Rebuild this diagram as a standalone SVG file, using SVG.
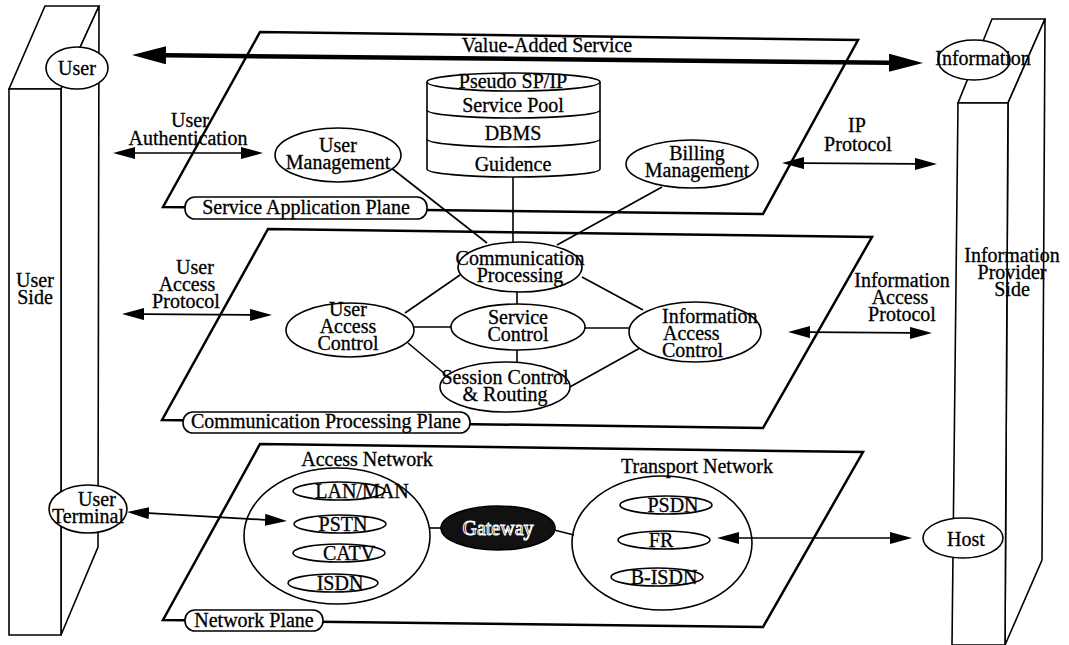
<svg xmlns="http://www.w3.org/2000/svg" width="1069" height="645" viewBox="0 0 1069 645">
<defs>
<marker id="ah" viewBox="0 0 22 12" refX="0" refY="6" markerWidth="22" markerHeight="12" markerUnits="userSpaceOnUse" orient="auto-start-reverse"><path d="M0,0 L22,6 L0,12 z" fill="#000"/></marker>
<marker id="ahb" viewBox="0 0 34 18" refX="0" refY="9" markerWidth="34" markerHeight="18" markerUnits="userSpaceOnUse" orient="auto-start-reverse"><path d="M0,0 L34,9 L0,18 z" fill="#000"/></marker>
</defs>
<style>
text{font-family:"Liberation Serif","Times New Roman",serif;font-size:20px;fill:#000;stroke:#000;stroke-width:0.3;text-anchor:middle}
.st{text-anchor:start}
.pl{fill:none;stroke:#000;stroke-width:2.5;stroke-linejoin:miter}
.pil{fill:#fff;stroke:#000;stroke-width:1.6;stroke-linejoin:miter}
.el{fill:#fff;stroke:#000;stroke-width:1.6}
.box{fill:none;stroke:#000;stroke-width:1.6}
.ln{fill:none;stroke:#000;stroke-width:1.6}
.lab{fill:#fff;stroke:#000;stroke-width:1.6}
.ar{fill:none;stroke:#000;stroke-width:1.7;marker-start:url(#ah);marker-end:url(#ah)}
.arb{fill:none;stroke:#000;stroke-width:4.5;marker-start:url(#ahb);marker-end:url(#ahb)}
</style>
<rect width="1069" height="645" fill="#fff"/>

<!-- pillars -->
<g id="user-side">
<path class="pil" d="M45,6 L99,6 L61,89 L9,89 Z"/>
<path class="pil" d="M99,6 L98,547 L61,635 L61,89 Z"/>
<path class="pil" d="M9,89 L61,89 L61,635 L9,635 Z"/>
<text x="35" y="287">User</text>
<text x="35" y="304">Side</text>
</g>
<g id="provider-side">
<path class="pil" d="M992,19 L1045,19 L1008,103 L958,103 Z"/>
<path class="pil" d="M1045,19 L1042,560 L1005,645 L1008,103 Z"/>
<path class="pil" d="M958,103 L1008,103 L1005,645 L952,645 Z"/>
<text x="1012" y="262">Information</text>
<text x="1012" y="279">Provider</text>
<text x="1012" y="296">Side</text>
</g>

<!-- planes -->
<g id="service-application-plane">
<path class="pl" d="M163,207 L260,32 L858,40 L763,214 Z"/>
<rect class="lab" x="185" y="197" width="242" height="22" rx="10"/>
<text x="306" y="214">Service Application Plane</text>
</g>
<g id="communication-processing-plane">
<path class="pl" d="M162,420 L268,229 L872,237 L763,428 Z"/>
<rect class="lab" x="183" y="412" width="287" height="21" rx="10"/>
<text x="326" y="428">Communication Processing Plane</text>
</g>
<g id="network-plane">
<path class="pl" d="M163,620 L260,444 L863,452 L763,627 Z"/>
<rect class="lab" x="185" y="610" width="138" height="21" rx="10"/>
<text x="254" y="627">Network Plane</text>
</g>

<!-- connectors -->
<g id="connectors">
<line class="ln" x1="390" y1="167" x2="487" y2="243"/>
<line class="ln" x1="513" y1="176" x2="513" y2="243"/>
<line class="ln" x1="662" y1="187" x2="557" y2="245"/>
<line class="ln" x1="460" y1="275" x2="405" y2="313"/>
<line class="ln" x1="582" y1="277" x2="643" y2="310"/>
<line class="ln" x1="517" y1="290" x2="517" y2="306"/>
<line class="ln" x1="413" y1="327" x2="453" y2="327"/>
<line class="ln" x1="584" y1="328" x2="630" y2="328"/>
<line class="ln" x1="517" y1="348" x2="517" y2="364"/>
<line class="ln" x1="408" y1="343" x2="445" y2="374"/>
<line class="ln" x1="640" y1="348" x2="568" y2="388"/>
<line class="ln" x1="429" y1="528" x2="442" y2="528"/>
<line class="ln" x1="554" y1="530" x2="574" y2="535"/>
<line class="arb" x1="166" y1="55.3" x2="889" y2="62.7"/>
<line class="ar" x1="135" y1="153" x2="241" y2="153"/>
<line class="ar" x1="804" y1="163.1" x2="915" y2="163.9"/>
<line class="ar" x1="144" y1="314.1" x2="250" y2="314.9"/>
<line class="ar" x1="810" y1="332.1" x2="910" y2="332.9"/>
<line class="ar" x1="149" y1="513.2" x2="265" y2="519.8"/>
<line class="ar" x1="739" y1="538" x2="890" y2="538"/>
</g>

<!-- labels on connectors -->
<g id="connector-labels">
<text x="547" y="52">Value-Added Service</text>
<text x="190" y="127">User</text>
<text x="188" y="145">Authentication</text>
<text x="857" y="132">IP</text>
<text x="858" y="151">Protocol</text>
<text x="195" y="274">User</text>
<text x="187" y="291">Access</text>
<text x="186" y="308">Protocol</text>
<text x="902" y="287">Information</text>
<text x="900" y="304">Access</text>
<text x="902" y="321">Protocol</text>
</g>

<!-- nodes -->
<g id="user">
<ellipse class="el" cx="77" cy="68" rx="31" ry="21"/>
<text x="77" y="75">User</text>
</g>
<g id="information">
<ellipse class="el" cx="974" cy="60" rx="36" ry="20"/>
<text x="983" y="65">Information</text>
</g>
<g id="user-terminal">
<ellipse class="el" cx="88" cy="509" rx="39" ry="24"/>
<text x="97" y="506">User</text>
<text x="88" y="523">Terminal</text>
</g>
<g id="host">
<ellipse class="el" cx="963" cy="538" rx="40" ry="20"/>
<text x="966" y="546">Host</text>
</g>

<g id="database">
<path class="el" d="M427,82 L427,169 A86.5,8 0 0 0 600,169 L600,82"/>
<ellipse class="el" cx="513.5" cy="82" rx="86.5" ry="9"/>
<path class="ln" d="M427,110 A86.5,8 0 0 0 600,110"/>
<path class="ln" d="M427,139 A86.5,8 0 0 0 600,139"/>
<text x="513" y="88">Pseudo SP/IP</text>
<text x="513" y="112">Service Pool</text>
<text x="513" y="140">DBMS</text>
<text x="513" y="171">Guidence</text>
</g>
<g id="user-management">
<ellipse class="el" cx="338" cy="155" rx="63" ry="27"/>
<text x="338" y="152">User</text>
<text x="338" y="169">Management</text>
</g>
<g id="billing-management">
<ellipse class="el" cx="692" cy="164" rx="66" ry="24"/>
<text x="697" y="160">Billing</text>
<text x="697" y="177">Management</text>
</g>

<g id="communication-processing">
<ellipse class="el" cx="520" cy="267" rx="62" ry="25"/>
<text x="520" y="265">Communication</text>
<text x="520" y="282">Processing</text>
</g>
<g id="service-control">
<ellipse class="el" cx="518" cy="327" rx="67" ry="23"/>
<text x="518" y="324">Service</text>
<text x="518" y="341">Control</text>
</g>
<g id="session-control">
<ellipse class="el" cx="505" cy="387" rx="65" ry="25"/>
<text x="505" y="384">Session Control</text>
<text x="505" y="401">&amp; Routing</text>
</g>
<g id="user-access-control">
<ellipse class="el" cx="350" cy="330" rx="64" ry="27"/>
<text x="348" y="316">User</text>
<text x="348" y="333">Access</text>
<text x="348" y="350">Control</text>
</g>
<g id="information-access-control">
<ellipse class="el" cx="695" cy="332" rx="66" ry="30"/>
<text class="st" x="662" y="323">Information</text>
<text class="st" x="663" y="340">Access</text>
<text class="st" x="662" y="357">Control</text>
</g>

<g id="access-network">
<ellipse class="box" cx="337" cy="536" rx="93" ry="68"/>
<text x="367" y="466">Access Network</text>
<ellipse class="el" cx="339" cy="491" rx="46" ry="9"/>
<text x="362" y="498">LAN/MAN</text>
<ellipse class="el" cx="340" cy="524" rx="46" ry="9"/>
<text x="343" y="531">PSTN</text>
<ellipse class="el" cx="339" cy="553" rx="46" ry="9"/>
<text x="349" y="560">CATV</text>
<ellipse class="el" cx="333" cy="583" rx="45" ry="9"/>
<text x="340" y="590">ISDN</text>
</g>
<g id="gateway">
<ellipse cx="498" cy="528" rx="57" ry="22" fill="#111" stroke="#000" stroke-width="1.6"/>
<text x="498" y="535" style="fill:#111;stroke:#fff;stroke-width:1">Gateway</text>
</g>
<g id="transport-network">
<ellipse class="box" cx="662" cy="543" rx="90" ry="67"/>
<text x="697" y="473">Transport Network</text>
<ellipse class="el" cx="666" cy="505" rx="46" ry="9"/>
<text x="673" y="512">PSDN</text>
<ellipse class="el" cx="664" cy="540" rx="46" ry="9"/>
<text x="661" y="547">FR</text>
<ellipse class="el" cx="657" cy="577" rx="46" ry="9"/>
<text x="664" y="584">B-ISDN</text>
</g>
</svg>
